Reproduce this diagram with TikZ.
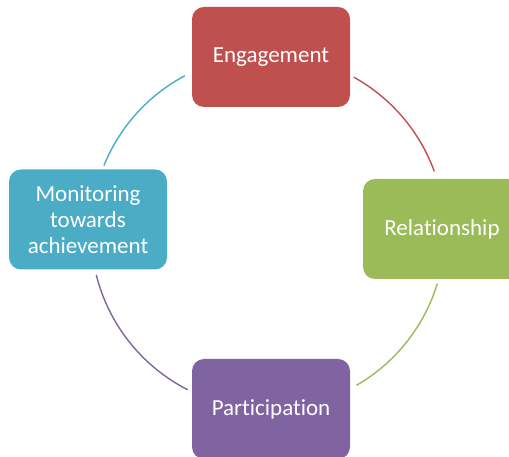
\documentclass[tikz,border=0pt]{standalone}
\usepackage{fontspec}
\setmainfont{Carlito}[Ligatures={NoCommon}]
\usepackage{tikz}

\definecolor{engred}{HTML}{C0504D}
\definecolor{relgreen}{HTML}{9BBB59}
\definecolor{partpurple}{HTML}{8064A2}
\definecolor{monblue}{HTML}{4BACC6}

\begin{document}
\begin{tikzpicture}[x=1pt,y=1pt,
	stage/.style={rounded corners=12pt,minimum width=158pt,minimum height=100pt,
		text=white,align=center,font=\fontsize{23}{26}\selectfont,inner sep=0pt},
	link/.style={line width=1.4pt}]
	\useasboundingbox (0,0) rectangle (509,457);
	\coordinate (c) at (268,225);
		\node[stage,fill=engred] (eng) at (271,400) {Engagement};
		\node[stage,fill=relgreen] (rel) at (442,228) {Relationship};
		\node[stage,fill=partpurple] (part) at (271,48) {Participation};
		\node[stage,fill=monblue] (mon) at (88,237.5) {Monitoring\\towards\\achievement};
		% connecting arcs
		\draw[link,engred] ([shift={(61:177)}]c) arc[start angle=61,end angle=20,radius=177];
		\draw[link,relgreen] ([shift={(-17:177)}]c) arc[start angle=-17,end angle=-60,radius=177];
		\draw[link,partpurple] ([shift={(-117:177)}]c) arc[start angle=-117,end angle=-166,radius=177];
		\draw[link,monblue] ([shift={(158:177)}]c) arc[start angle=158,end angle=118,radius=177];
\end{tikzpicture}
\end{document}
